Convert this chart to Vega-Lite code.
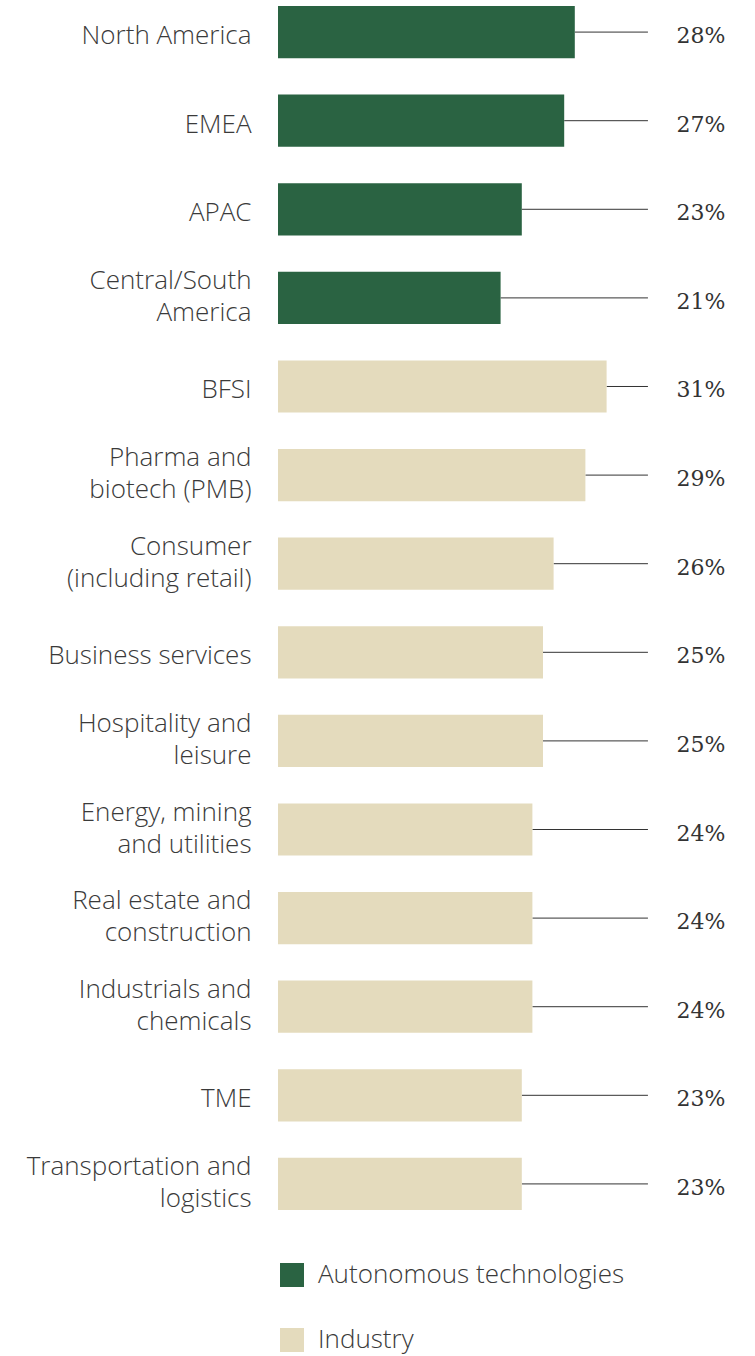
{
  "$schema": "https://vega.github.io/schema/vega-lite/v6.json",
  "width": 477,
  "height": 1204,
  "autosize": {"type": "none"},
  "padding": {"left": 278, "top": 6, "right": 0, "bottom": 146},
  "background": "#ffffff",
  "config": {"view": {"stroke": null}},
  "data": {
    "values": [
      {"cat": "North America", "group": "Autonomous technologies", "value": 28, "label": "28%"},
      {"cat": "EMEA", "group": "Autonomous technologies", "value": 27, "label": "27%"},
      {"cat": "APAC", "group": "Autonomous technologies", "value": 23, "label": "23%"},
      {"cat": "Central/South|America", "group": "Autonomous technologies", "value": 21, "label": "21%"},
      {"cat": "BFSI", "group": "Industry", "value": 31, "label": "31%"},
      {"cat": "Pharma and|biotech (PMB)", "group": "Industry", "value": 29, "label": "29%"},
      {"cat": "Consumer|(including retail)", "group": "Industry", "value": 26, "label": "26%"},
      {"cat": "Business services", "group": "Industry", "value": 25, "label": "25%"},
      {"cat": "Hospitality and|leisure", "group": "Industry", "value": 25, "label": "25%"},
      {"cat": "Energy, mining|and utilities", "group": "Industry", "value": 24, "label": "24%"},
      {"cat": "Real estate and|construction", "group": "Industry", "value": 24, "label": "24%"},
      {"cat": "Industrials and|chemicals", "group": "Industry", "value": 24, "label": "24%"},
      {"cat": "TME", "group": "Industry", "value": 23, "label": "23%"},
      {"cat": "Transportation and|logistics", "group": "Industry", "value": 23, "label": "23%"}
    ]
  },
  "encoding": {
    "y": {
      "field": "cat",
      "type": "nominal",
      "sort": null,
      "scale": {"paddingInner": 0.411, "paddingOuter": 0},
      "axis": {
        "title": null,
        "ticks": false,
        "domain": false,
        "labelPadding": 27,
        "labelFont": "Open Sans",
        "labelFontWeight": 300,
        "labelFontSize": 26,
        "labelColor": "#3a3a3a",
        "labelLineHeight": 32,
        "labelLimit": 300,
        "labelOffset": {"condition": {"test": "indexof(datum.value, '|') >= 0", "value": -17}, "value": 4},
        "labelExpr": "split(datum.label, '|')"
      }
    }
  },
  "layer": [
    {
      "mark": {"type": "rule", "color": "#333333", "strokeWidth": 1},
      "encoding": {
        "x": {"field": "value", "type": "quantitative", "scale": {"domain": [0, 45], "nice": false}, "axis": null},
        "x2": {"datum": 34.9}
      }
    },
    {
      "mark": {"type": "bar", "cornerRadius": 0},
      "encoding": {
        "x": {"field": "value", "type": "quantitative", "scale": {"domain": [0, 45], "nice": false}, "axis": null},
        "color": {
          "field": "group",
          "type": "nominal",
          "scale": {"domain": ["Autonomous technologies", "Industry"], "range": ["#2a6342", "#e4dbbd"]},
          "legend": {
            "title": null,
            "orient": "none",
            "legendX": 1,
            "legendY": 1256,
            "symbolType": "square",
            "symbolSize": 576,
            "symbolStrokeWidth": 0,
            "labelFont": "Open Sans",
            "labelFontWeight": 300,
            "labelFontSize": 26,
            "labelColor": "#3a3a3a",
            "labelOffset": 13,
            "rowPadding": 39,
            "labelLimit": 400
          }
        }
      }
    },
    {
      "mark": {"type": "text", "align": "left", "baseline": "middle", "dy": 4, "font": "DejaVu Serif", "fontSize": 22, "color": "#333333"},
      "encoding": {
        "x": {"datum": 37.6},
        "text": {"field": "label", "type": "nominal"}
      }
    }
  ]
}
